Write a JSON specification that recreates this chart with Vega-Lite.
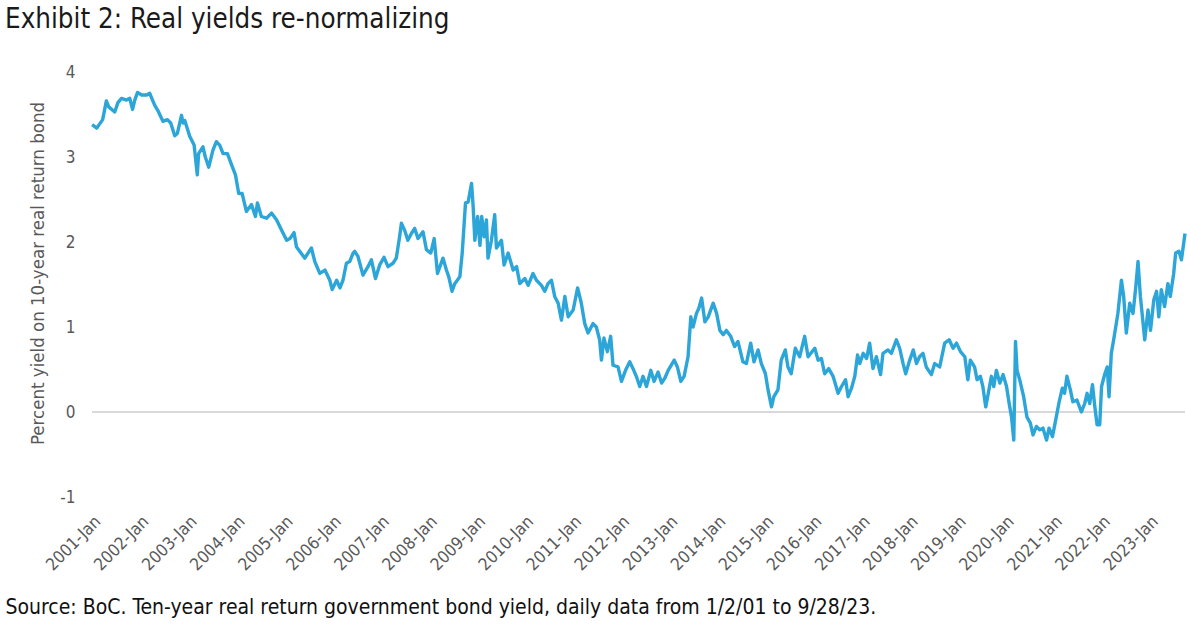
{
"$schema": "https://vega.github.io/schema/vega-lite/v6.json",
"width": 1093, "height": 425,
"autosize": {"type": "none"},
"padding": {"left": 92, "top": 72, "right": 2, "bottom": 128},
"background": "white",
"config": {"view": {"stroke": null}, "font": "DejaVu Sans Condensed, Noto Sans"},
"title": {"text": "Exhibit 2: Real yields re-normalizing", "anchor": "start", "frame": "group", "dx": -87, "offset": 8, "baseline": "alphabetic", "fontSize": 27.5, "fontWeight": "normal", "color": "#1a1a1a", "font": "DejaVu Sans Condensed, Noto Sans"},
"data": {"values": [
{"d":"2001-01-02","v":3.38},{"d":"2001-02-06","v":3.34},{"d":"2001-03-23","v":3.44},{"d":"2001-04-20","v":3.66},{"d":"2001-05-08","v":3.59},{"d":"2001-06-23","v":3.53},{"d":"2001-07-17","v":3.64},{"d":"2001-08-13","v":3.69},{"d":"2001-09-20","v":3.67},{"d":"2001-10-15","v":3.69},{"d":"2001-11-05","v":3.56},{"d":"2001-11-22","v":3.67},{"d":"2001-12-13","v":3.76},
{"d":"2002-01-13","v":3.73},{"d":"2002-02-20","v":3.73},{"d":"2002-03-15","v":3.75},{"d":"2002-04-22","v":3.61},{"d":"2002-05-22","v":3.53},{"d":"2002-06-24","v":3.42},{"d":"2002-07-28","v":3.44},{"d":"2002-08-22","v":3.40},{"d":"2002-09-22","v":3.25},{"d":"2002-10-12","v":3.28},{"d":"2002-11-12","v":3.49},{"d":"2002-11-24","v":3.40},{"d":"2002-12-07","v":3.43},
{"d":"2003-01-14","v":3.24},{"d":"2003-02-16","v":3.14},{"d":"2003-03-12","v":2.79},{"d":"2003-03-22","v":3.04},{"d":"2003-04-24","v":3.12},{"d":"2003-05-12","v":3.00},{"d":"2003-06-07","v":2.88},{"d":"2003-07-09","v":3.08},{"d":"2003-08-04","v":3.18},{"d":"2003-08-29","v":3.14},{"d":"2003-09-24","v":3.04},{"d":"2003-10-27","v":3.04},{"d":"2003-11-27","v":2.91},{"d":"2003-12-27","v":2.79},
{"d":"2004-01-21","v":2.57},{"d":"2004-02-16","v":2.57},{"d":"2004-03-19","v":2.36},{"d":"2004-04-27","v":2.44},{"d":"2004-05-27","v":2.30},{"d":"2004-06-11","v":2.46},{"d":"2004-07-11","v":2.30},{"d":"2004-08-19","v":2.28},{"d":"2004-09-26","v":2.34},{"d":"2004-11-04","v":2.26},{"d":"2004-12-11","v":2.14},
{"d":"2005-01-19","v":2.02},{"d":"2005-02-13","v":2.04},{"d":"2005-03-16","v":2.11},{"d":"2005-04-04","v":1.94},{"d":"2005-06-06","v":1.81},{"d":"2005-07-26","v":1.93},{"d":"2005-08-21","v":1.77},{"d":"2005-09-28","v":1.63},{"d":"2005-11-06","v":1.67},{"d":"2005-12-13","v":1.55},{"d":"2005-12-31","v":1.44},
{"d":"2006-02-03","v":1.55},{"d":"2006-02-28","v":1.46},{"d":"2006-03-23","v":1.55},{"d":"2006-04-18","v":1.75},{"d":"2006-05-13","v":1.77},{"d":"2006-06-08","v":1.87},{"d":"2006-06-20","v":1.89},{"d":"2006-07-15","v":1.83},{"d":"2006-08-22","v":1.61},{"d":"2006-09-29","v":1.71},{"d":"2006-10-25","v":1.79},{"d":"2006-11-25","v":1.57},{"d":"2006-12-27","v":1.73},
{"d":"2007-01-29","v":1.82},{"d":"2007-02-28","v":1.71},{"d":"2007-04-07","v":1.75},{"d":"2007-05-02","v":1.81},{"d":"2007-05-27","v":2.06},{"d":"2007-06-10","v":2.22},{"d":"2007-07-04","v":2.14},{"d":"2007-07-29","v":2.02},{"d":"2007-08-25","v":2.10},{"d":"2007-09-19","v":2.16},{"d":"2007-10-14","v":2.04},{"d":"2007-11-21","v":2.12},{"d":"2007-12-17","v":1.91},
{"d":"2008-01-19","v":1.87},{"d":"2008-02-14","v":2.04},{"d":"2008-03-10","v":1.63},{"d":"2008-04-21","v":1.81},{"d":"2008-05-17","v":1.67},{"d":"2008-06-04","v":1.59},{"d":"2008-06-29","v":1.42},{"d":"2008-07-19","v":1.51},{"d":"2008-08-27","v":1.59},{"d":"2008-09-14","v":1.87},{"d":"2008-10-09","v":2.46},{"d":"2008-10-29","v":2.47},{"d":"2008-11-24","v":2.69},{"d":"2008-12-06","v":2.42},{"d":"2008-12-19","v":2.02},
{"d":"2009-01-09","v":2.30},{"d":"2009-01-27","v":1.96},{"d":"2009-02-09","v":2.30},{"d":"2009-02-28","v":2.06},{"d":"2009-03-17","v":2.26},{"d":"2009-03-29","v":1.81},{"d":"2009-04-24","v":2.02},{"d":"2009-05-19","v":2.32},{"d":"2009-06-01","v":1.93},{"d":"2009-07-09","v":2.02},{"d":"2009-07-29","v":1.73},{"d":"2009-08-29","v":1.87},{"d":"2009-10-06","v":1.67},{"d":"2009-11-01","v":1.71},{"d":"2009-11-26","v":1.51},
{"d":"2010-01-03","v":1.57},{"d":"2010-01-28","v":1.49},{"d":"2010-03-06","v":1.63},{"d":"2010-04-01","v":1.55},{"d":"2010-05-09","v":1.49},{"d":"2010-06-03","v":1.42},{"d":"2010-06-28","v":1.51},{"d":"2010-07-24","v":1.55},{"d":"2010-08-18","v":1.36},{"d":"2010-09-13","v":1.28},{"d":"2010-10-08","v":1.08},{"d":"2010-11-03","v":1.36},{"d":"2010-11-28","v":1.12},
{"d":"2011-01-05","v":1.20},{"d":"2011-02-08","v":1.46},{"d":"2011-03-08","v":1.28},{"d":"2011-04-03","v":1.04},{"d":"2011-04-28","v":0.93},{"d":"2011-06-05","v":1.04},{"d":"2011-06-30","v":1.00},{"d":"2011-07-25","v":0.85},{"d":"2011-08-08","v":0.61},{"d":"2011-08-27","v":0.87},{"d":"2011-09-22","v":0.71},{"d":"2011-10-17","v":0.89},{"d":"2011-11-04","v":0.55},{"d":"2011-12-12","v":0.53},
{"d":"2012-01-07","v":0.36},{"d":"2012-02-07","v":0.49},{"d":"2012-03-10","v":0.59},{"d":"2012-04-04","v":0.51},{"d":"2012-04-29","v":0.42},{"d":"2012-05-25","v":0.30},{"d":"2012-06-19","v":0.42},{"d":"2012-07-15","v":0.30},{"d":"2012-08-17","v":0.49},{"d":"2012-09-11","v":0.36},{"d":"2012-10-11","v":0.47},{"d":"2012-11-07","v":0.34},{"d":"2012-12-02","v":0.40},{"d":"2012-12-27","v":0.49},
{"d":"2013-02-11","v":0.61},{"d":"2013-03-07","v":0.53},{"d":"2013-04-02","v":0.36},{"d":"2013-04-27","v":0.42},{"d":"2013-05-27","v":0.65},{"d":"2013-06-17","v":1.12},{"d":"2013-07-04","v":1.00},{"d":"2013-07-30","v":1.16},{"d":"2013-08-17","v":1.22},{"d":"2013-09-07","v":1.34},{"d":"2013-10-02","v":1.06},{"d":"2013-10-27","v":1.12},{"d":"2013-12-04","v":1.28},{"d":"2013-12-30","v":1.16},
{"d":"2014-01-24","v":0.96},{"d":"2014-02-18","v":0.91},{"d":"2014-03-14","v":0.96},{"d":"2014-04-16","v":0.89},{"d":"2014-05-16","v":0.77},{"d":"2014-06-10","v":0.83},{"d":"2014-07-18","v":0.59},{"d":"2014-08-13","v":0.57},{"d":"2014-09-15","v":0.81},{"d":"2014-10-10","v":0.59},{"d":"2014-11-10","v":0.73},{"d":"2014-12-05","v":0.57},
{"d":"2015-01-05","v":0.45},{"d":"2015-01-25","v":0.26},{"d":"2015-02-20","v":0.06},{"d":"2015-03-10","v":0.18},{"d":"2015-04-10","v":0.26},{"d":"2015-05-05","v":0.61},{"d":"2015-06-05","v":0.73},{"d":"2015-06-25","v":0.53},{"d":"2015-07-20","v":0.45},{"d":"2015-08-20","v":0.75},{"d":"2015-09-22","v":0.65},{"d":"2015-10-30","v":0.89},{"d":"2015-11-25","v":0.65},
{"d":"2016-01-15","v":0.75},{"d":"2016-02-09","v":0.61},{"d":"2016-03-05","v":0.63},{"d":"2016-03-30","v":0.45},{"d":"2016-04-30","v":0.51},{"d":"2016-06-02","v":0.42},{"d":"2016-07-10","v":0.22},{"d":"2016-08-05","v":0.30},{"d":"2016-09-05","v":0.38},{"d":"2016-09-24","v":0.18},{"d":"2016-10-20","v":0.28},{"d":"2016-11-14","v":0.42},{"d":"2016-12-05","v":0.67},{"d":"2016-12-22","v":0.57},
{"d":"2017-01-17","v":0.69},{"d":"2017-02-12","v":0.63},{"d":"2017-03-07","v":0.81},{"d":"2017-04-01","v":0.51},{"d":"2017-04-27","v":0.65},{"d":"2017-05-29","v":0.44},{"d":"2017-06-16","v":0.69},{"d":"2017-07-24","v":0.73},{"d":"2017-08-19","v":0.69},{"d":"2017-09-26","v":0.85},{"d":"2017-10-21","v":0.75},{"d":"2017-11-16","v":0.57},{"d":"2017-12-06","v":0.45},
{"d":"2018-01-01","v":0.59},{"d":"2018-02-01","v":0.73},{"d":"2018-02-26","v":0.57},{"d":"2018-03-21","v":0.65},{"d":"2018-04-16","v":0.69},{"d":"2018-05-11","v":0.53},{"d":"2018-06-19","v":0.44},{"d":"2018-07-14","v":0.57},{"d":"2018-08-21","v":0.53},{"d":"2018-09-28","v":0.81},{"d":"2018-11-01","v":0.85},{"d":"2018-12-01","v":0.75},{"d":"2018-12-27","v":0.81},
{"d":"2019-01-26","v":0.71},{"d":"2019-02-28","v":0.65},{"d":"2019-03-23","v":0.38},{"d":"2019-04-11","v":0.61},{"d":"2019-05-13","v":0.53},{"d":"2019-06-01","v":0.38},{"d":"2019-06-26","v":0.42},{"d":"2019-07-15","v":0.30},{"d":"2019-08-06","v":0.06},{"d":"2019-08-23","v":0.20},{"d":"2019-09-18","v":0.42},{"d":"2019-10-06","v":0.30},{"d":"2019-10-26","v":0.49},{"d":"2019-11-21","v":0.34},{"d":"2019-12-16","v":0.44},
{"d":"2020-01-11","v":0.30},{"d":"2020-01-31","v":0.10},{"d":"2020-02-18","v":-0.06},{"d":"2020-03-06","v":-0.33},{"d":"2020-03-19","v":0.83},{"d":"2020-03-31","v":0.49},{"d":"2020-04-20","v":0.38},{"d":"2020-05-20","v":0.18},{"d":"2020-06-14","v":-0.06},{"d":"2020-07-10","v":-0.13},{"d":"2020-07-30","v":-0.27},{"d":"2020-08-25","v":-0.17},{"d":"2020-09-19","v":-0.21},{"d":"2020-10-14","v":-0.19},{"d":"2020-11-10","v":-0.33},{"d":"2020-11-29","v":-0.19},{"d":"2020-12-25","v":-0.29},
{"d":"2021-01-19","v":-0.09},{"d":"2021-02-14","v":0.12},{"d":"2021-03-10","v":0.28},{"d":"2021-03-27","v":0.22},{"d":"2021-04-14","v":0.42},{"d":"2021-05-10","v":0.26},{"d":"2021-05-29","v":0.12},{"d":"2021-06-29","v":0.14},{"d":"2021-08-02","v":0.00},{"d":"2021-08-27","v":0.10},{"d":"2021-09-14","v":0.22},{"d":"2021-10-04","v":0.10},{"d":"2021-10-25","v":0.32},{"d":"2021-11-12","v":0.06},{"d":"2021-11-29","v":-0.15},{"d":"2021-12-19","v":-0.15},
{"d":"2022-01-02","v":0.30},{"d":"2022-01-27","v":0.45},{"d":"2022-02-14","v":0.53},{"d":"2022-02-28","v":0.18},{"d":"2022-03-17","v":0.69},{"d":"2022-04-04","v":0.85},{"d":"2022-04-24","v":1.04},{"d":"2022-05-06","v":1.16},{"d":"2022-06-02","v":1.55},{"d":"2022-06-19","v":1.36},{"d":"2022-07-09","v":0.93},{"d":"2022-08-04","v":1.28},{"d":"2022-08-29","v":1.16},{"d":"2022-09-19","v":1.47},{"d":"2022-10-06","v":1.77},{"d":"2022-10-24","v":1.36},{"d":"2022-11-26","v":0.85},{"d":"2022-12-21","v":1.20},
{"d":"2023-01-09","v":0.96},{"d":"2023-02-03","v":1.32},{"d":"2023-02-24","v":1.42},{"d":"2023-03-13","v":1.12},{"d":"2023-04-01","v":1.44},{"d":"2023-04-26","v":1.24},{"d":"2023-05-21","v":1.51},{"d":"2023-06-08","v":1.36},{"d":"2023-07-04","v":1.63},{"d":"2023-07-19","v":1.87},{"d":"2023-08-13","v":1.89},{"d":"2023-09-01","v":1.79},{"d":"2023-09-28","v":2.10}
]},
"layer": [
{"mark": {"type": "rule", "color": "#d9d9d9", "strokeWidth": 1.5}, "encoding": {"y": {"datum": 0, "type": "quantitative"}}},
{"mark": {"type": "line", "color": "#2ca5d8", "strokeWidth": 3.4, "strokeJoin": "round"},
 "encoding": {
  "x": {"field": "d", "type": "temporal",
    "scale": {"type": "utc", "domain": [{"year": 2001, "month": 1, "date": 1, "utc": true}, {"year": 2023, "month": 9, "date": 28, "utc": true}], "nice": false},
    "axis": {"format": "%Y-%b", "tickCount": {"interval": "year", "step": 1}, "labelAngle": -45, "labelFontSize": 17, "labelColor": "#595959", "labelPadding": 16, "labelFont": "DejaVu Sans Condensed, Noto Sans", "grid": false, "domain": false, "ticks": false, "labelOverlap": false, "labelFlush": false,
      "title": "Source: BoC. Ten-year real return government bond yield, daily data from 1/2/01 to 9/28/23.", "titleFont": "DejaVu Sans Condensed, Noto Sans", "titleFontSize": 21, "titleFontWeight": "normal", "titleColor": "#111111", "titleAnchor": "start", "titleAlign": "left", "titleBaseline": "alphabetic", "titleX": -87, "titleY": 116}},
  "y": {"field": "v", "type": "quantitative",
    "scale": {"domain": [-1, 4], "nice": false, "zero": false},
    "axis": {"values": [-1, 0, 1, 2, 3, 4], "labelExpr": "'' + datum.value", "labelFontSize": 17, "labelColor": "#595959", "labelPadding": 17, "labelFont": "DejaVu Sans Condensed, Noto Sans", "grid": false, "domain": false, "ticks": false,
      "title": "Percent yield on 10-year real return bond", "titleFont": "DejaVu Sans Condensed, Noto Sans", "titleFontSize": 18.5, "titleFontWeight": "normal", "titleColor": "#595959", "titleX": -55, "titleY": 201, "titleAngle": -90, "titleAlign": "center", "titleBaseline": "middle"}}
 }}
]
}
